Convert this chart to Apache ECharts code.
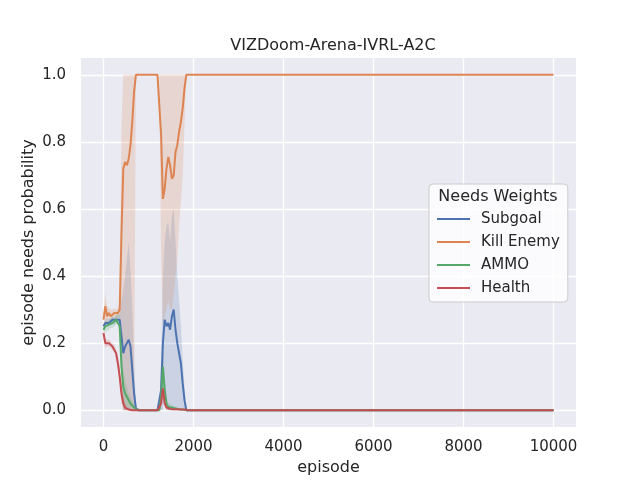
<!DOCTYPE html>
<html>
<head>
<meta charset="utf-8">
<script src="https://cdn.jsdelivr.net/npm/echarts@6/dist/echarts.min.js"></script>
<style>
  html, body { margin: 0; padding: 0; background: #ffffff; }
  #graph { width: 640px; height: 480px; }
</style>
</head>
<body>
<div id="graph"></div>
<script>
// episodes: every 40 up to 2000, then the last logged episode
var episodes = [0, 40, 80, 120, 160, 200, 240, 280, 320, 360,
                400, 440, 480, 520, 560, 600, 640, 680, 720, 760,
                800, 840, 880, 920, 960, 1000, 1040, 1080, 1120, 1160,
                1200, 1240, 1280, 1320, 1360, 1400, 1440, 1480, 1520, 1560,
                1600, 1640, 1680, 1720, 1760, 1800, 1840, 1880, 1920, 1960,
                2000, 10000]

var seriesNames = ['Subgoal', 'Kill Enemy', 'AMMO', 'Health']
var seriesColors = ['#4C72B0', '#DD8452', '#55A868', '#C44E52']

// mean curves
var subgoal = [0.25, 0.26, 0.265, 0.26, 0.265, 0.27, 0.265, 0.27, 0.275, 0.27,
               0.22, 0.17, 0.19, 0.2, 0.21, 0.19, 0.12, 0.05, 0.005, 0,
               0, 0, 0, 0, 0, 0, 0, 0, 0, 0,
               0, 0, 0.06, 0.2, 0.27, 0.25, 0.26, 0.24, 0.28, 0.3,
               0.24, 0.2, 0.17, 0.14, 0.08, 0.03, 0, 0, 0, 0,
               0, 0]
var killEnemy = [0.27, 0.31, 0.28, 0.29, 0.28, 0.285, 0.29, 0.285, 0.29, 0.3,
                 0.53, 0.72, 0.74, 0.73, 0.75, 0.79, 0.86, 0.95, 1.0, 1.0,
                 1.0, 1.0, 1.0, 1.0, 1.0, 1.0, 1.0, 1.0, 1.0, 1.0,
                 1.0, 1.0, 0.82, 0.63, 0.66, 0.72, 0.755, 0.73, 0.69, 0.7,
                 0.77, 0.79, 0.83, 0.86, 0.9, 0.96, 1.0, 1.0, 1.0, 1.0,
                 1.0, 1.0]
var ammo = [0.24, 0.25, 0.25, 0.255, 0.26, 0.26, 0.265, 0.27, 0.275, 0.25,
            0.13, 0.07, 0.05, 0.04, 0.03, 0.02, 0.015, 0.008, 0.003, 0,
            0, 0, 0, 0, 0, 0, 0, 0, 0, 0,
            0, 0, 0.04, 0.13, 0.06, 0.02, 0.01, 0.01, 0.008, 0.006,
            0.005, 0.004, 0.003, 0.002, 0.002, 0.001, 0, 0, 0, 0,
            0, 0]
var health = [0.23, 0.2, 0.2, 0.2, 0.195, 0.19, 0.185, 0.17, 0.14, 0.1,
              0.05, 0.02, 0.008, 0.004, 0.002, 0, 0, 0, 0, 0,
              0, 0, 0, 0, 0, 0, 0, 0, 0, 0,
              0, 0, 0.02, 0.065, 0.02, 0.008, 0.005, 0.004, 0.004, 0.003,
              0.003, 0.003, 0.002, 0.002, 0.002, 0.002, 0, 0, 0, 0,
              0, 0]

// shaded bands (upper / lower)
var subgoalUp = [0.26, 0.27, 0.275, 0.27, 0.275, 0.28, 0.275, 0.28, 0.285, 0.29,
                 0.33, 0.36, 0.4, 0.45, 0.5, 0.42, 0.3, 0.15, 0.02, 0,
                 0, 0, 0, 0, 0, 0, 0, 0, 0, 0,
                 0, 0, 0.15, 0.4, 0.5, 0.55, 0.56, 0.5, 0.58, 0.6,
                 0.5, 0.4, 0.33, 0.25, 0.15, 0.07, 0, 0, 0, 0,
                 0, 0]
var subgoalLow = [0.24, 0.25, 0.255, 0.25, 0.255, 0.26, 0.255, 0.26, 0.265, 0.25,
                  0.1, 0, 0, 0, 0, 0, 0, 0, 0, 0,
                  0, 0, 0, 0, 0, 0, 0, 0, 0, 0,
                  0, 0, 0, 0, 0.05, 0.02, 0, 0, 0, 0,
                  0, 0, 0, 0, 0, 0, 0, 0, 0, 0,
                  0, 0]
var killEnemyUp = [0.29, 0.35, 0.31, 0.305, 0.3, 0.3, 0.305, 0.3, 0.305, 0.32,
                   0.85, 1.0, 1.0, 1.0, 1.0, 1.0, 1.0, 1.0, 1.0, 1.0,
                   1.0, 1.0, 1.0, 1.0, 1.0, 1.0, 1.0, 1.0, 1.0, 1.0,
                   1.0, 1.0, 1.0, 1.0, 1.0, 1.0, 1.0, 1.0, 1.0, 1.0,
                   1.0, 1.0, 1.0, 1.0, 1.0, 1.0, 1.0, 1.0, 1.0, 1.0,
                   1.0, 1.0]
var killEnemyLow = [0.25, 0.27, 0.26, 0.27, 0.265, 0.27, 0.275, 0.27, 0.275, 0.28,
                    0.25, 0, 0, 0, 0, 0, 0, 0, 1.0, 1.0,
                    1.0, 1.0, 1.0, 1.0, 1.0, 1.0, 1.0, 1.0, 1.0, 1.0,
                    1.0, 1.0, 0.45, 0.25, 0.28, 0.3, 0.33, 0.3, 0.3, 0.35,
                    0.4, 0.45, 0.55, 0.62, 0.7, 0.85, 1.0, 1.0, 1.0, 1.0,
                    1.0, 1.0]
var ammoUp = [0.255, 0.265, 0.265, 0.27, 0.275, 0.275, 0.28, 0.285, 0.29, 0.28,
              0.2, 0.12, 0.09, 0.07, 0.05, 0.04, 0.03, 0.02, 0.01, 0,
              0, 0, 0, 0, 0, 0, 0, 0, 0, 0,
              0, 0, 0.08, 0.2, 0.1, 0.04, 0.02, 0.02, 0.015, 0.012,
              0.01, 0.008, 0.006, 0.005, 0.004, 0.003, 0, 0, 0, 0,
              0, 0]
var ammoLow = [0.225, 0.235, 0.235, 0.24, 0.245, 0.245, 0.25, 0.255, 0.26, 0.22,
               0.06, 0.02, 0.01, 0.01, 0.005, 0, 0, 0, 0, 0,
               0, 0, 0, 0, 0, 0, 0, 0, 0, 0,
               0, 0, 0, 0.05, 0.02, 0, 0, 0, 0, 0,
               0, 0, 0, 0, 0, 0, 0, 0, 0, 0,
               0, 0]
var healthUp = [0.25, 0.215, 0.21, 0.21, 0.205, 0.2, 0.195, 0.18, 0.155, 0.13,
                0.08, 0.04, 0.02, 0.01, 0.005, 0, 0, 0, 0, 0,
                0, 0, 0, 0, 0, 0, 0, 0, 0, 0,
                0, 0, 0.035, 0.08, 0.03, 0.015, 0.01, 0.008, 0.008, 0.006,
                0.006, 0.005, 0.004, 0.004, 0.004, 0.003, 0, 0, 0, 0,
                0, 0]
var healthLow = [0.21, 0.185, 0.19, 0.19, 0.185, 0.18, 0.175, 0.16, 0.125, 0.07,
                 0.02, 0, 0, 0, 0, 0, 0, 0, 0, 0,
                 0, 0, 0, 0, 0, 0, 0, 0, 0, 0,
                 0, 0, 0.005, 0.05, 0.01, 0, 0, 0, 0, 0,
                 0, 0, 0, 0, 0, 0, 0, 0, 0, 0,
                 0, 0]

var xTicks = [0, 2000, 4000, 6000, 8000, 10000]
var yTicks = [0, 0.2, 0.4, 0.6, 0.8, 1.0]

var textColor = '#262626'
var font = 'DejaVu Sans'

function pairs(values) {
    var out = []
    for (var i = 0; i < episodes.length; i++) {
        out.push([episodes[i], values[i]])
    }
    return out
}

// one polygon per band: upper edge left->right, lower edge back right->left
function bandSeries(up, low, color) {
    var rows = []
    for (var i = 0; i < episodes.length; i++) {
        rows.push([episodes[i], low[i], up[i]])
    }
    return {
        type: 'custom', data: rows, silent: true, z: 1,
        encode: { x: 0, y: [1, 2] },
        renderItem: function (params, api) {
            if (params.dataIndex !== 0) return
            var top = [], bottom = []
            for (var j = 0; j < rows.length; j++) {
                top.push(api.coord([rows[j][0], rows[j][2]]))
                bottom.unshift(api.coord([rows[j][0], rows[j][1]]))
            }
            return {
                type: 'polygon',
                shape: { points: top.concat(bottom) },
                style: { fill: color, opacity: 0.2 }
            }
        }
    }
}

function lineSeries(name, values, color) {
    return {
        name: name, type: 'line', data: pairs(values), symbol: 'none',
        lineStyle: { color: color, width: 2 }, itemStyle: { color: color }, z: 3
    }
}

function makeGraph() {
    var chart = echarts.init(document.getElementById('graph'))
    var series = [
        bandSeries(subgoalUp, subgoalLow, seriesColors[0]),
        bandSeries(killEnemyUp, killEnemyLow, seriesColors[1]),
        bandSeries(ammoUp, ammoLow, seriesColors[2]),
        bandSeries(healthUp, healthLow, seriesColors[3]),
        lineSeries(seriesNames[0], subgoal, seriesColors[0]),
        lineSeries(seriesNames[1], killEnemy, seriesColors[1]),
        lineSeries(seriesNames[2], ammo, seriesColors[2]),
        lineSeries(seriesNames[3], health, seriesColors[3])
    ]

    var option = {
        animation: false,
        backgroundColor: '#ffffff',
        title: {
            text: 'VIZDoom-Arena-IVRL-A2C',
            left: 328, top: 33, textAlign: 'center',
            textStyle: { fontFamily: font, fontSize: 16, fontWeight: 'normal', color: textColor }
        },
        grid: {
            left: 81, right: 64, top: 58, bottom: 53, outerBoundsMode: 'none', containLabel: false,
            show: true, backgroundColor: '#EAEAF2', borderWidth: 0
        },
        legend: {
            orient: 'vertical', left: 429, top: 184,
            data: seriesNames.map(function (n, i) {
                return { name: n, icon: 'rect', itemStyle: { color: seriesColors[i] } }
            }),
            itemWidth: 33, itemHeight: 2, itemGap: 7,
            padding: [27, 8, 6, 8],
            backgroundColor: 'rgba(255,255,255,0.8)',
            borderColor: '#cccccc', borderWidth: 1, borderRadius: 4,
            textStyle: { fontFamily: font, fontSize: 15, color: textColor, lineHeight: 16, padding: [0, 0, 0, 6] }
        },
        graphic: [{
            type: 'text', x: 498, y: 197, z: 100,
            style: { text: 'Needs Weights', fill: textColor, font: '16px "DejaVu Sans"', textAlign: 'center', textVerticalAlign: 'middle' }
        }],
        xAxis: {
            type: 'value', min: -500, max: 10500,
            name: 'episode', nameLocation: 'middle', nameGap: 33, nameMoveOverlap: false,
            nameTextStyle: { fontFamily: font, fontSize: 16, color: textColor },
            axisLine: { show: false },
            axisTick: { show: false, customValues: xTicks },
            axisLabel: {
                customValues: xTicks, fontFamily: font, fontSize: 15, color: textColor, margin: 13,
                formatter: function (v) { return String(v) }
            },
            splitLine: { show: true, lineStyle: { color: '#ffffff', width: 1.3 } }
        },
        yAxis: {
            type: 'value', min: -0.05, max: 1.05,
            name: 'episode needs probability', nameLocation: 'middle', nameGap: 44, nameMoveOverlap: false,
            nameTextStyle: { fontFamily: font, fontSize: 16, color: textColor },
            axisLine: { show: false },
            axisTick: { show: false, customValues: yTicks },
            axisLabel: {
                customValues: yTicks, fontFamily: font, fontSize: 15, color: textColor, margin: 15,
                formatter: function (v) { return v.toFixed(1) }
            },
            splitLine: { show: true, lineStyle: { color: '#ffffff', width: 1.3 } }
        },
        series: series
    }
    chart.setOption(option)
}

makeGraph()
</script>
</body>
</html>
